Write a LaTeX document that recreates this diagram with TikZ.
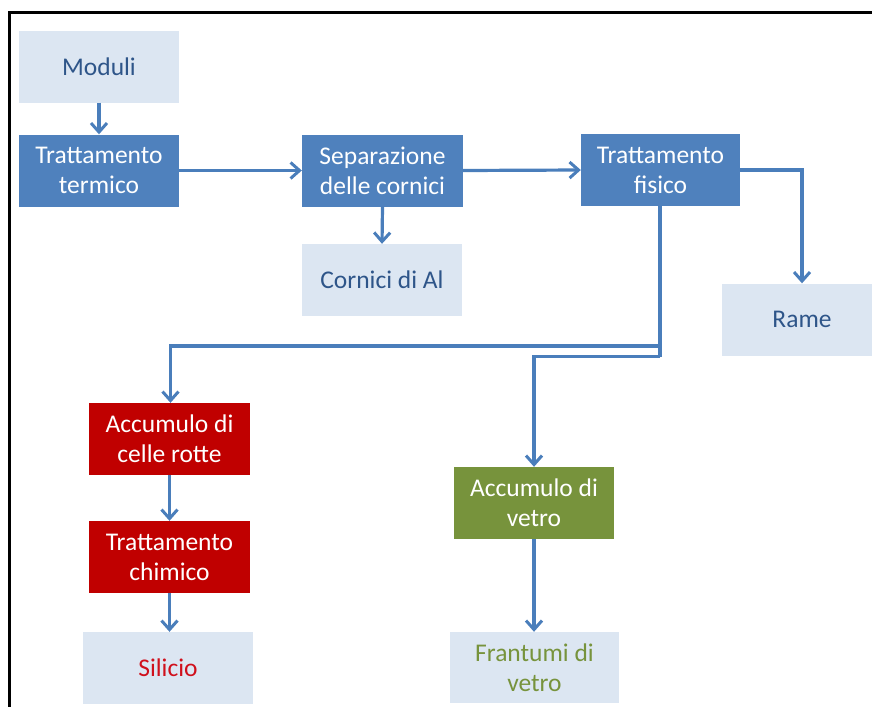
\documentclass[tikz,border=0pt]{standalone}
\usepackage{fontspec}
\setmainfont{Carlito}
\usetikzlibrary{arrows.meta}
\definecolor{dblue}{HTML}{4F81BD}
\definecolor{lblue}{HTML}{DCE6F2}
\definecolor{arr}{HTML}{4A7EBB}
\definecolor{dred}{HTML}{C00000}
\definecolor{dgreen}{HTML}{77933C}
\definecolor{txtblue}{HTML}{2E5589}
\definecolor{silred}{HTML}{D0101C}
\tikzset{
  box/.style={minimum width=160pt, minimum height=72pt, inner sep=0pt, align=center,
    font=\fontsize{25.5}{30}\selectfont},
  darkbox/.style={box, fill=dblue, text=white},
  lightbox/.style={box, fill=lblue, text=txtblue},
  redbox/.style={box, fill=dred, text=white},
  greenbox/.style={box, fill=dgreen, text=white},
  conn/.style={draw=arr, line width=3.2pt, -{Straight Barb[length=9pt,width=16pt,line width=3pt]}},
  plain/.style={draw=arr, line width=3.2pt},
}
\begin{document}
\begin{tikzpicture}[x=1pt,y=-1pt]
\useasboundingbox (0,0) rectangle (872,707);
% frame
\fill[black] (7.5,10.5) rectangle (10.5,707);
\fill[black] (7.5,10.5) rectangle (872,13.5);
% nodes
\node[lightbox] (mod) at (99,66.5) {Moduli};
\node[darkbox] (tt) at (99,170.5) {Trattamento\\termico};
\node[darkbox, minimum width=161pt] (sep) at (382.5,170.5) {Separazione\\delle cornici};
\node[lightbox] (cor) at (382,280) {Cornici di Al};
\node[darkbox, minimum width=159pt] (tf) at (660.5,170) {Trattamento\\fisico};
\begin{scope}
\clip (700,250) rectangle (872,400);
\node[lightbox] (rame) at (802,319.5) {Rame};
\end{scope}
\node[redbox, minimum width=161pt] (acc) at (169.5,439) {Accumulo di\\celle rotte};
\node[redbox, minimum width=161pt] (tch) at (169.5,557) {Trattamento\\chimico};
\node[lightbox, minimum width=170pt, text=silred] (sil) at (168,668) {Silicio};
\node[greenbox] (accv) at (534,503) {Accumulo di\\vetro};
\node[lightbox, minimum width=169pt, minimum height=71pt, text=dgreen] (fra) at (534.5,667.5) {Frantumi di\\vetro};
% helper coordinates
\coordinate (b1) at (660,346);
\coordinate (b2) at (660,356.5);
\coordinate (c1) at (170.5,346);
\coordinate (c2) at (534,356.5);
% connectors
\draw[conn] (mod.south) -- (tt.north);
\draw[conn] (tt.east) -- (sep.west);
\draw[conn] (sep.east) -- (tf.west);
\draw[conn] (sep.south) -- (cor.north);
\draw[conn] (tf.east) -| (rame.north);
\draw[plain] (tf.south -| b1) -- (b2);
\draw[conn] (b1) -- (c1) -- (acc.north -| c1);
\draw[conn] (b2) -- (c2) -- (accv.north);
\draw[conn] (acc.south) -- (tch.north);
\draw[conn] (tch.south) -- (sil.north -| tch.south);
\draw[conn] (accv.south) -- (fra.north -| accv.south);
\end{tikzpicture}
\end{document}
